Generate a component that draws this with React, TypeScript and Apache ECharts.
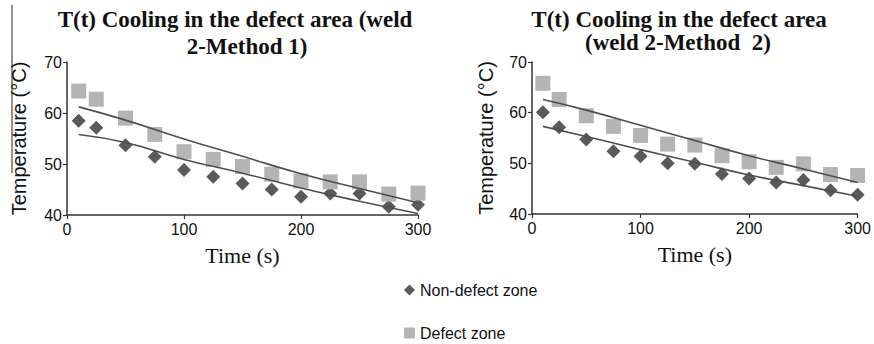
import React, { useEffect, useRef } from "react";
import * as echarts from "echarts";

// Time points (s)
const times = [10, 25, 50, 75, 100, 125, 150, 175, 200, 225, 250, 275, 300];

// Left chart: weld 2 - Method 1
const m1NonDefect = [58.5, 57.1, 53.7, 51.4, 48.8, 47.5, 46.2, 45.0, 43.6, 44.2, 44.2, 41.6, 42.0];
const m1Defect = [64.3, 62.7, 59.0, 55.8, 52.4, 50.9, 49.5, 48.0, 46.7, 46.5, 46.5, 44.1, 44.3];

// Right chart: weld 2 - Method 2
const m2NonDefect = [60.1, 57.1, 54.7, 52.4, 51.4, 50.0, 49.9, 47.9, 47.0, 46.2, 46.7, 44.7, 43.8];
const m2Defect = [65.8, 62.6, 59.4, 57.3, 55.5, 53.8, 53.6, 51.5, 50.3, 49.2, 49.9, 47.8, 47.6];

// Trend lines
const trendTimes = [10, 50, 100, 150, 200, 250, 300];
const m1TrendDefect = [61.2, 58.6, 54.9, 51.5, 48.1, 45.2, 42.4];
const m1TrendNonDefect = [55.8, 54.2, 50.9, 48.2, 45.3, 42.7, 40.3];
const m2TrendDefect = [62.6, 60.5, 57.5, 54.5, 51.5, 48.9, 46.2];
const m2TrendNonDefect = [57.3, 55.3, 52.7, 50.2, 47.7, 45.6, 43.5];

const yTicks = [40, 50, 60, 70];
const xTicks = [0, 100, 200, 300];

const legendNames = ["Non-defect zone", "Defect zone"];
const titleLeft = ["T(t) Cooling in the defect area (weld", "2-Method 1)"];
const titleRight = ["T(t) Cooling in the defect area", "(weld 2-Method  2)"];
const yName = "Temperature (°C)";
const xName = "Time (s)";

const pairs = (xs: number[], ys: number[]) => xs.map((x, i) => [x, ys[i]]);

export default function App() {
  const ref = useRef<HTMLDivElement>(null);

  useEffect(() => {
    if (!ref.current) return;
    const chart = echarts.init(ref.current, undefined, { renderer: "svg" });

    const sans = "'Liberation Sans', Arial, sans-serif";
    const serif = "'Liberation Serif', 'Times New Roman', serif";
    const axisColor = "#333333";
    const textColor = "#111111";
    const darkGray = "#5a5a5a";
    const lightGray = "#b4b4b4";
    const trendColor = "#4e4e4e";

    const makeX = (gridIndex: number) => ({
      type: "value" as const,
      gridIndex,
      min: xTicks[0],
      max: xTicks[xTicks.length - 1],
      interval: 100,
      name: xName,
      nameLocation: "middle" as const,
      nameGap: 29,
      nameTextStyle: { fontFamily: serif, fontSize: 22, color: textColor },
      axisLine: { show: true, onZero: false, lineStyle: { color: axisColor, width: 1.5 } },
      axisTick: { show: true, length: 4, lineStyle: { color: axisColor, width: 1.2 } },
      axisLabel: { fontFamily: sans, fontSize: 16, color: textColor, margin: 6 },
      splitLine: { show: false },
    });

    const makeY = (gridIndex: number, nameGap: number) => ({
      type: "value" as const,
      gridIndex,
      min: yTicks[0],
      max: yTicks[yTicks.length - 1],
      interval: 10,
      name: yName,
      nameLocation: "middle" as const,
      nameGap,
      nameTextStyle: { fontFamily: sans, fontSize: 20, color: textColor },
      axisLine: { show: true, onZero: false, lineStyle: { color: axisColor, width: 1.5 } },
      axisTick: { show: true, length: 4, lineStyle: { color: axisColor, width: 1.2 } },
      axisLabel: { fontFamily: sans, fontSize: 16, color: textColor, margin: 5 },
      splitLine: { show: false },
    });

    const scatter = (name: string, idx: number, ys: number[], symbol: string, size: number, color: string, z: number) => ({
      type: "scatter" as const,
      name,
      xAxisIndex: idx,
      yAxisIndex: idx,
      symbol,
      symbolSize: size,
      itemStyle: { color, opacity: 1 },
      data: pairs(times, ys),
      z,
    });

    const trend = (idx: number, ys: number[]) => ({
      type: "line" as const,
      name: "trend",
      xAxisIndex: idx,
      yAxisIndex: idx,
      smooth: true,
      showSymbol: false,
      symbol: "none",
      lineStyle: { color: trendColor, width: 1.6 },
      data: pairs(trendTimes, ys),
      z: 5,
    });

    const titleText = (text: string, x: number, y: number) => ({
      type: "text" as const,
      x,
      y,
      style: {
        text,
        fontFamily: serif,
        fontWeight: "bold",
        fontSize: 23,
        fill: textColor,
        align: "center",
        verticalAlign: "middle",
      },
    });

    const legendItem = (name: string, icon: string, top: number) => ({
      orient: "horizontal" as const,
      left: 399,
      top,
      itemWidth: 11,
      itemHeight: 11,
      textStyle: { fontFamily: sans, fontSize: 16, color: textColor },
      data: [{ name, icon }],
      selectedMode: false,
    });

    chart.setOption({
      animation: false,
      backgroundColor: "#ffffff",
      grid: [
        { left: 67, top: 62, width: 351, height: 153 },
        { left: 532, top: 62, width: 331, height: 152 },
      ],
      xAxis: [makeX(0), makeX(1)],
      yAxis: [makeY(0, 38), makeY(1, 36)],
      legend: [
        legendItem(legendNames[0], "diamond", 277),
        legendItem(legendNames[1], "rect", 320),
      ],
      series: [
        scatter(legendNames[0], 0, m1NonDefect, "diamond", 14, darkGray, 2),
        scatter(legendNames[1], 0, m1Defect, "rect", 15, lightGray, 3),
        trend(0, m1TrendDefect),
        trend(0, m1TrendNonDefect),
        scatter(legendNames[0], 1, m2NonDefect, "diamond", 14, darkGray, 2),
        scatter(legendNames[1], 1, m2Defect, "rect", 15, lightGray, 3),
        trend(1, m2TrendDefect),
        trend(1, m2TrendNonDefect),
      ],
      graphic: [
        {
          type: "line",
          shape: { x1: 12, y1: 5, x2: 12, y2: 173 },
          style: { stroke: "#6e6e6e", lineWidth: 1.5 },
        },
        titleText(titleLeft[0], 235, 19),
        titleText(titleLeft[1], 247, 46),
        titleText(titleRight[0], 679, 19),
        titleText(titleRight[1], 678, 42),
      ],
    });

    return () => chart.dispose();
  }, []);

  return (
    <div
      ref={ref}
      style={{ position: "fixed", left: 0, top: 0, width: 874, height: 344, background: "#fff" }}
    />
  );
}
